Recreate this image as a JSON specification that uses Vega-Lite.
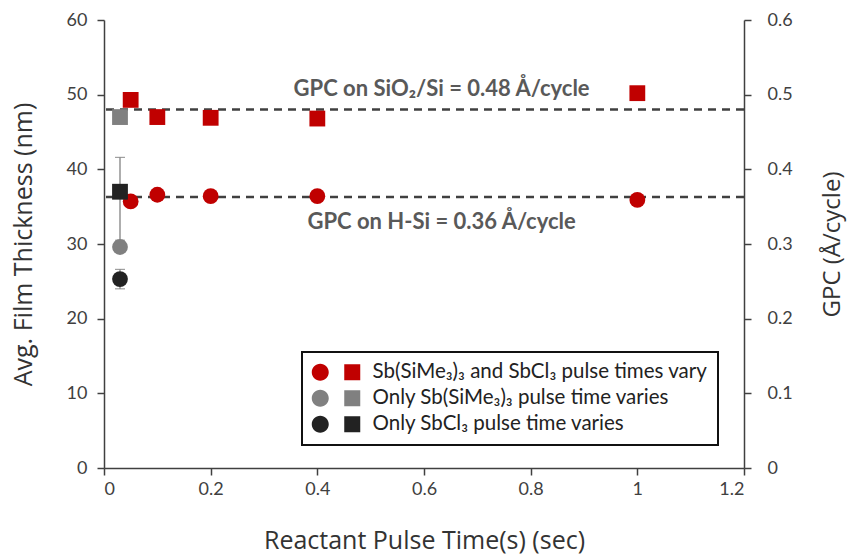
{
  "$schema": "https://vega.github.io/schema/vega-lite/v6.json",
  "width": 640,
  "height": 448,
  "autosize": "none",
  "padding": {"left": 104, "top": 20, "right": 106, "bottom": 86},
  "background": "white",
  "config": {
    "view": {"stroke": null},
    "font": "Lato",
    "axis": {
      "grid": false,
      "domainColor": "#404040",
      "domainWidth": 1.5,
      "tickColor": "#404040",
      "tickWidth": 1.5,
      "tickSize": 7,
      "labelFont": "Lato",
      "labelFontSize": 18,
      "labelColor": "#404040",
      "titleFont": "Open Sans",
      "titleFontSize": 25,
      "titleFontWeight": "normal",
      "titleColor": "#333333"
    },
    "legend": {
      "strokeWidth": 2,
      "symbolType": "M-2.45,0 A0.85,0.85 0 1,0 -0.75,0 A0.85,0.85 0 1,0 -2.45,0 Z M0.8,-0.8 L2.4,-0.8 L2.4,0.8 L0.8,0.8 Z"
    }
  },
  "layer": [
    {
      "data": {
        "values": [
          {"gpc": 0.48, "pos": "above", "label": "GPC on SiO₂/Si = 0.48 Å/cycle"},
          {"gpc": 0.363, "pos": "below", "label": "GPC on H-Si = 0.36 Å/cycle"}
        ]
      },
      "encoding": {
        "y": {
          "field": "gpc",
          "type": "quantitative",
          "scale": {"domain": [0, 0.6], "nice": false},
          "axis": {
            "orient": "right",
            "title": "GPC (Å/cycle)",
            "titleAngle": -90,
            "titleFontSize": 24,
            "values": [0, 0.1, 0.2, 0.3, 0.4, 0.5, 0.6],
            "format": ".1~f",
            "labelPadding": 16,
            "titlePadding": 52
          }
        }
      },
      "layer": [
        {
          "mark": {"type": "rule", "color": "#404040", "strokeWidth": 2.5, "strokeDash": [8, 6]}
        },
        {
          "transform": [{"filter": "datum.pos === 'above'"}],
          "mark": {"type": "text", "font": "Lato", "fontSize": 22, "fontWeight": "bold", "color": "#595959", "dy": -21, "baseline": "middle", "align": "center"},
          "encoding": {
            "x": {"datum": 0.633, "type": "quantitative"},
            "text": {"field": "label"}
          }
        },
        {
          "transform": [{"filter": "datum.pos === 'below'"}],
          "mark": {"type": "text", "font": "Lato", "fontSize": 22, "fontWeight": "bold", "color": "#595959", "dy": 25, "baseline": "middle", "align": "center"},
          "encoding": {
            "x": {"datum": 0.633, "type": "quantitative"},
            "text": {"field": "label"}
          }
        }
      ]
    },
    {
      "data": {
        "values": [
          {"series": "Sb(SiMe₃)₃ and SbCl₃ pulse times vary", "substrate": "H-Si", "time": 0.05, "thick": 35.7},
          {"series": "Sb(SiMe₃)₃ and SbCl₃ pulse times vary", "substrate": "H-Si", "time": 0.1, "thick": 36.6},
          {"series": "Sb(SiMe₃)₃ and SbCl₃ pulse times vary", "substrate": "H-Si", "time": 0.2, "thick": 36.4},
          {"series": "Sb(SiMe₃)₃ and SbCl₃ pulse times vary", "substrate": "H-Si", "time": 0.4, "thick": 36.4},
          {"series": "Sb(SiMe₃)₃ and SbCl₃ pulse times vary", "substrate": "H-Si", "time": 1.0, "thick": 35.9},
          {"series": "Sb(SiMe₃)₃ and SbCl₃ pulse times vary", "substrate": "SiO2/Si", "time": 0.05, "thick": 49.3},
          {"series": "Sb(SiMe₃)₃ and SbCl₃ pulse times vary", "substrate": "SiO2/Si", "time": 0.1, "thick": 47.0},
          {"series": "Sb(SiMe₃)₃ and SbCl₃ pulse times vary", "substrate": "SiO2/Si", "time": 0.2, "thick": 46.9},
          {"series": "Sb(SiMe₃)₃ and SbCl₃ pulse times vary", "substrate": "SiO2/Si", "time": 0.4, "thick": 46.8},
          {"series": "Sb(SiMe₃)₃ and SbCl₃ pulse times vary", "substrate": "SiO2/Si", "time": 1.0, "thick": 50.2},
          {"series": "Only Sb(SiMe₃)₃ pulse time varies", "substrate": "H-Si", "time": 0.03, "thick": 29.6},
          {"series": "Only Sb(SiMe₃)₃ pulse time varies", "substrate": "SiO2/Si", "time": 0.03, "thick": 47.0},
          {"series": "Only SbCl₃ pulse time varies", "substrate": "H-Si", "time": 0.03, "thick": 25.3, "lo": 24.0, "hi": 26.6},
          {"series": "Only SbCl₃ pulse time varies", "substrate": "SiO2/Si", "time": 0.03, "thick": 37.0, "lo": 30.5, "hi": 41.6}
        ]
      },
      "encoding": {
        "x": {
          "field": "time",
          "type": "quantitative",
          "scale": {"domain": [0, 1.2], "nice": false},
          "axis": {
            "title": "Reactant Pulse Time(s) (sec)",
            "values": [0, 0.2, 0.4, 0.6, 0.8, 1, 1.2],
            "format": "~g",
            "labelPadding": 5,
            "titlePadding": 30
          }
        },
        "y": {
          "field": "thick",
          "type": "quantitative",
          "scale": {"domain": [0, 60], "nice": false},
          "axis": {
            "orient": "left",
            "title": "Avg. Film Thickness (nm)",
            "values": [0, 10, 20, 30, 40, 50, 60],
            "labelPadding": 10,
            "titlePadding": 30
          }
        }
      },
      "layer": [
        {
          "transform": [{"filter": "isValid(datum.lo)"}],
          "mark": {"type": "rule", "color": "#777777", "strokeWidth": 1.2},
          "encoding": {
            "y": {"field": "lo", "type": "quantitative"},
            "y2": {"field": "hi"}
          }
        },
        {
          "transform": [{"filter": "isValid(datum.hi)"}],
          "mark": {"type": "tick", "orient": "horizontal", "color": "#777777", "thickness": 1.2, "size": 10},
          "encoding": {
            "y": {"field": "hi", "type": "quantitative"}
          }
        },
        {
          "transform": [{"filter": "isValid(datum.lo)"}],
          "mark": {"type": "tick", "orient": "horizontal", "color": "#777777", "thickness": 1.2, "size": 10},
          "encoding": {
            "y": {"field": "lo", "type": "quantitative"}
          }
        },
        {
          "mark": {"type": "point", "filled": true, "opacity": 1, "size": 250},
          "encoding": {
            "shape": {
              "field": "substrate",
              "type": "nominal",
              "scale": {"domain": ["H-Si", "SiO2/Si"], "range": ["circle", "square"]},
              "legend": null
            },
            "color": {
              "field": "series",
              "type": "nominal",
              "scale": {
                "domain": ["Sb(SiMe₃)₃ and SbCl₃ pulse times vary", "Only Sb(SiMe₃)₃ pulse time varies", "Only SbCl₃ pulse time varies"],
                "range": ["#C00000", "#808080", "#222222"]
              },
              "legend": {
                "title": null,
                "orient": "none",
                "legendX": 198,
                "legendY": 332,
                "padding": 10,
                "strokeColor": "#111111",
                "fillColor": "white",
                "symbolSize": 400,
                "symbolStrokeWidth": 0,
                "symbolOpacity": 1,
                "symbolOffset": 14,
                "labelOffset": 26,
                "labelFont": "Lato",
                "labelFontSize": 20.5,
                "labelColor": "#222222",
                "labelLimit": 600,
                "rowPadding": 5
              }
            }
          }
        }
      ]
    }
  ],
  "resolve": {"scale": {"y": "independent"}}
}
